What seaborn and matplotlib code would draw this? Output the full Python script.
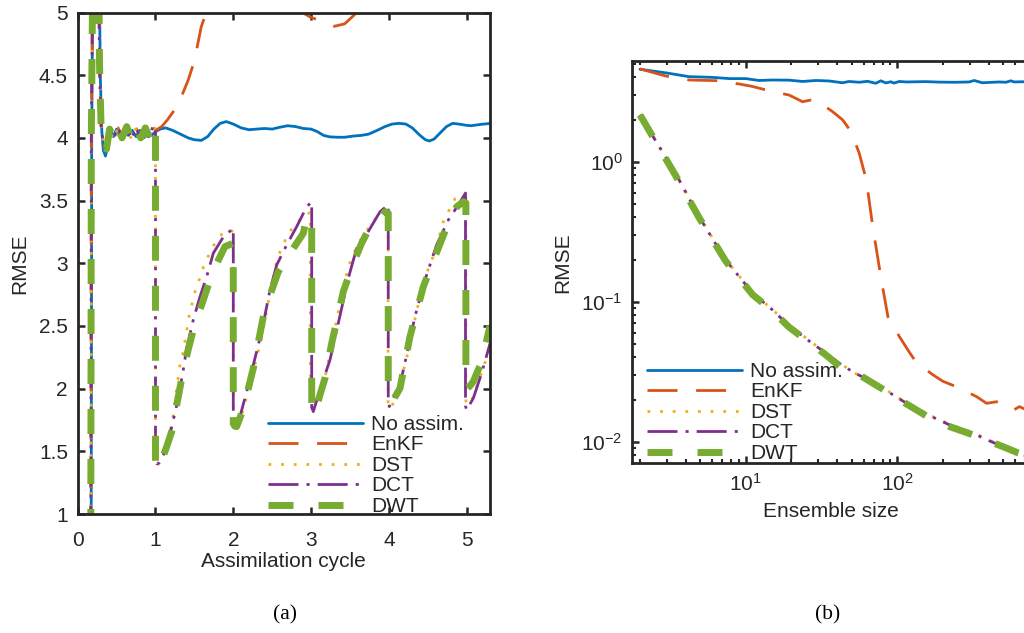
import matplotlib
matplotlib.use("Agg")
import matplotlib.pyplot as plt
import seaborn as sns
from matplotlib.ticker import FixedLocator, FormatStrFormatter

# ---------------- data: RMSE vs assimilation cycle ----------------
noassim_cycle = [0.17, 0.175, 0.18, 0.2, 0.24, 0.28, 0.29, 0.31, 0.33, 0.357, 0.39, 0.42, 0.46,
                 0.5, 0.55, 0.6, 0.65, 0.7, 0.75, 0.8, 0.85, 0.9, 0.95, 1.0,
                 1.06, 1.13, 1.22, 1.32, 1.42, 1.5, 1.59, 1.67, 1.75, 1.83, 1.91, 2.0, 2.1,
                 2.2, 2.3, 2.4, 2.5, 2.6, 2.7, 2.8, 2.9, 3.0, 3.08, 3.16, 3.24, 3.35, 3.43,
                 3.55, 3.65, 3.74, 3.85, 3.95, 4.04, 4.13, 4.22, 4.3, 4.4, 4.47, 4.52, 4.58,
                 4.66, 4.74, 4.82, 4.9, 5.0, 5.06, 5.15, 5.22, 5.3]
noassim_rmse = [0.0, 1.5, 4.0, 5.8, 6.2, 5.2, 4.5, 4.05, 3.9, 3.855, 3.95, 4.06, 4.01,
                4.07, 4.01, 4.06, 4.02, 4.06, 4.01, 4.06, 4.0, 4.06, 4.02, 4.05,
                4.07, 4.08, 4.06, 4.03, 4.0, 3.985, 3.98, 4.01, 4.07, 4.115, 4.13, 4.11, 4.08,
                4.065, 4.07, 4.075, 4.07, 4.085, 4.097, 4.09, 4.075, 4.07, 4.05, 4.02, 4.008, 4.005, 4.005,
                4.015, 4.02, 4.03, 4.06, 4.09, 4.11, 4.116, 4.11, 4.08, 4.02, 3.985, 3.975, 3.99,
                4.04, 4.09, 4.116, 4.11, 4.1, 4.097, 4.105, 4.11, 4.115]

# spin-up shared by the assimilating schemes (before the first analysis)
spinup_cycle = [0.165, 0.17, 0.175, 0.2, 0.24, 0.27, 0.28, 0.30, 0.33, 0.37, 0.41, 0.46, 0.52,
                0.57, 0.63, 0.69, 0.75, 0.81, 0.87, 0.92, 0.97, 1.0]
spinup_rmse = [0.0, 1.5, 4.0, 5.8, 6.2, 5.5, 4.6, 4.1, 3.95, 3.91, 4.07, 3.99, 4.08,
               4.0, 4.09, 3.99, 4.08, 4.0, 4.08, 4.0, 4.1, 4.06]

enkf_cycle = [1.0, 1.08, 1.152, 1.261, 1.326, 1.42, 1.5, 1.587, 1.652, 1.75, 1.9, 2.1, 2.4, 2.7,
              2.89, 3.0, 3.1, 3.194, 3.3, 3.433, 3.52, 3.586, 3.75, 4.0, 4.3, 4.6, 4.85, 5.0, 5.15, 5.3]
enkf_rmse = [4.06, 4.09, 4.143, 4.237, 4.318, 4.46, 4.614, 4.884, 5.0, 5.2, 5.4, 5.5, 5.45, 5.25,
             5.0, 4.96, 4.94, 4.91, 4.89, 4.91, 4.96, 5.0, 5.15, 5.3, 5.35, 5.25, 5.1, 5.03, 5.1, 5.2]

dst_cycle = [1.0, 1.02, 1.06, 1.122, 1.18, 1.229, 1.272, 1.315, 1.357, 1.435, 1.508, 1.563, 1.615,
             1.679, 1.752, 1.85, 1.95, 2.0,
             2.0, 2.02, 2.06, 2.12, 2.2, 2.28, 2.352, 2.472, 2.566, 2.707, 2.815, 2.935, 2.99,
             2.99, 3.02, 3.07, 3.15, 3.243, 3.372, 3.478, 3.607, 3.779, 3.886, 3.972, 3.99,
             3.99, 4.02, 4.07, 4.15, 4.25, 4.35, 4.46, 4.593, 4.7, 4.85, 4.93, 4.99,
             4.99, 5.03, 5.08, 5.15, 5.22, 5.3]
dst_rmse = [1.45, 1.38, 1.42, 1.511, 1.64, 1.79, 2.003, 2.189, 2.295, 2.588, 2.773, 2.87, 2.967,
            3.058, 3.146, 3.231, 3.27, 3.25,
            1.72, 1.69, 1.72, 1.82, 2.0, 2.2, 2.374, 2.76, 3.04, 3.24, 3.319, 3.399, 3.40,
            1.85, 1.82, 1.88, 2.0, 2.28, 2.68, 2.973, 3.16, 3.319, 3.399, 3.45, 3.46,
            1.87, 1.84, 1.9, 2.05, 2.3, 2.6, 2.88, 3.093, 3.332, 3.515, 3.53, 3.52,
            1.9, 1.87, 1.93, 2.05, 2.18, 2.32]

dct_cycle = [1.0, 1.02, 1.05, 1.1, 1.164, 1.229, 1.293, 1.357, 1.40, 1.486, 1.572, 1.658, 1.743,
             1.872, 2.0,
             2.0, 2.022, 2.05, 2.086, 2.172, 2.257, 2.322, 2.386, 2.472, 2.558, 2.686, 2.815, 2.943, 3.008,
             3.008, 3.028, 3.07, 3.136, 3.243, 3.36, 3.478, 3.586, 3.735, 3.886, 3.992,
             3.992, 4.005, 4.05, 4.143, 4.229, 4.335, 4.464, 4.614, 4.764, 4.892, 4.985,
             4.985, 5.0, 5.085, 5.171, 5.235, 5.3]
dct_rmse = [1.45, 1.40, 1.41, 1.47, 1.577, 1.75, 1.923, 2.15, 2.32, 2.55, 2.733, 2.893, 3.08,
            3.21, 3.279,
            1.72, 1.684, 1.70, 1.777, 1.976, 2.189, 2.349, 2.52, 2.787, 2.986, 3.146, 3.292, 3.45, 3.49,
            1.85, 1.817, 1.90, 2.03, 2.229, 2.55, 2.879, 3.12, 3.253, 3.411, 3.465,
            1.88, 1.857, 1.91, 2.03, 2.269, 2.574, 2.867, 3.146, 3.345, 3.465, 3.56,
            1.86, 1.83, 1.923, 2.083, 2.215, 2.36]

dwt_cycle = [1.0, 1.02, 1.036, 1.08, 1.14, 1.208, 1.27, 1.337, 1.42, 1.508, 1.6, 1.679, 1.78,
             1.893, 2.0,
             2.0, 2.02, 2.043, 2.13, 2.257, 2.386, 2.48, 2.579, 2.74, 2.9, 2.943, 3.008,
             3.008, 3.03, 3.06, 3.114, 3.179, 3.265, 3.414, 3.53, 3.65, 3.715, 3.85, 3.95, 3.992,
             3.992, 4.02, 4.057, 4.143, 4.271, 4.443, 4.635, 4.75, 4.871, 4.957, 4.99,
             4.99, 5.0, 5.04, 5.085, 5.193, 5.3]
dwt_rmse = [1.40, 1.36, 1.365, 1.43, 1.53, 1.657, 1.86, 2.08, 2.31, 2.52, 2.68, 2.827, 2.99,
            3.133, 3.16,
            1.72, 1.70, 1.697, 1.84, 2.162, 2.574, 2.76, 2.933, 3.09, 3.239, 3.36, 3.372,
            1.82, 1.80, 1.83, 1.95, 2.083, 2.362, 2.773, 2.98, 3.16, 3.239, 3.33, 3.411, 3.399,
            1.93, 1.91, 1.91, 2.003, 2.415, 2.813, 3.12, 3.3, 3.45, 3.49, 3.48,
            2.02, 2.0, 2.02, 2.056, 2.215, 2.50]

# ---------------- data: RMSE vs ensemble size ----------------
noassim_size = [2, 3, 4.2, 6, 7.8, 10, 12.2, 15, 19.3, 23.7, 29, 35.5, 43.5, 48, 56, 63.5, 72,
                77.8, 84, 90.6, 95, 103, 114, 154, 189, 243, 298, 321, 365, 470, 520, 561, 590,
                653, 760]
noassim_err = [4.57, 4.3, 4.05, 4.0, 3.92, 3.92, 3.80, 3.83, 3.82, 3.74, 3.80, 3.77, 3.66, 3.74,
               3.69, 3.75, 3.63, 3.78, 3.65, 3.72, 3.64, 3.74, 3.71, 3.73, 3.70, 3.69, 3.71, 3.80,
               3.66, 3.71, 3.69, 3.78, 3.71, 3.72, 3.72]

enkf_size = [2, 2.96, 4.23, 6.34, 9.0, 11, 13.6, 16.5, 19.3, 23.7, 28.3, 33, 37.5, 43.5, 49.5,
             56, 62.4, 68.9, 78.4, 86.7, 88.8, 103.5, 121, 133, 172, 200, 245, 333, 388, 452,
             583, 640, 760]
enkf_err = [4.6, 4.09, 3.83, 3.79, 3.59, 3.45, 3.25, 3.1, 2.99, 2.68, 2.79, 2.5, 2.27, 1.99, 1.64,
            1.15, 0.74, 0.34, 0.143, 0.078, 0.074, 0.056, 0.043, 0.037, 0.030, 0.027, 0.0247,
            0.021, 0.0188, 0.0193, 0.0168, 0.0178, 0.0163]

transform_size = [2, 2.6, 3.43, 4.9, 7.36, 11.1, 15, 19.2, 22.5, 27, 33.9, 41.5, 52, 68.9, 90,
                  115, 160, 222, 316, 400, 500, 630, 760]
dst_err = [2.16, 1.36, 0.83, 0.41, 0.2, 0.116, 0.088, 0.068, 0.06, 0.0515, 0.043, 0.0365, 0.031,
           0.027, 0.0224, 0.0189, 0.0156, 0.0133, 0.0116, 0.0103, 0.0093, 0.0084, 0.0077]
dct_err = [2.16, 1.35, 0.826, 0.405, 0.198, 0.115, 0.0873, 0.0675, 0.0594, 0.051, 0.0428, 0.0363,
           0.031, 0.0268, 0.0222, 0.0188, 0.0155, 0.01316, 0.01148, 0.0102, 0.0092, 0.0083, 0.0077]
dwt_err = [2.16, 1.33, 0.80, 0.40, 0.195, 0.112, 0.086, 0.066, 0.058, 0.050, 0.0415, 0.0345,
           0.0315, 0.0262, 0.0220, 0.0186, 0.0150, 0.0128, 0.0112, 0.0101, 0.0092, 0.0083, 0.0078]

labels = ["No assim.", "EnKF", "DST", "DCT", "DWT"]
colors = ["#0072BD", "#D95319", "#EDB120", "#7E2F8E", "#77AC30"]

# ---------------- style ----------------
sns.set_style("ticks")
ink = "#262626"
plt.rcParams.update({
    "font.family": ["Liberation Sans", "DejaVu Sans"],
    "mathtext.fontset": "custom",
    "mathtext.rm": "Liberation Sans",
    "mathtext.it": "Liberation Sans:italic",
    "mathtext.default": "regular",
    "axes.unicode_minus": False,
    "font.size": 15,
    "text.color": ink,
    "axes.labelcolor": ink,
    "axes.edgecolor": ink,
    "xtick.color": ink,
    "ytick.color": ink,
    "axes.linewidth": 2.0,
})

line_styles = [
    dict(linestyle="-", lw=2.0),
    dict(linestyle=(0, (10.8, 6.7)), lw=2.0),
    dict(linestyle=(0, (1.0, 3.55)), lw=2.0),
    dict(linestyle=(0, (10.8, 2.9, 1.1, 2.9)), lw=2.0),
    dict(linestyle=(0, (3.6, 3.6)), lw=5.0),
]

legend_kw = dict(bbox_transform=None, frameon=False, fontsize=15, handlelength=4.56,
                 handletextpad=0.4, labelspacing=0.07, borderpad=0, borderaxespad=0,
                 loc="upper left")

fig = plt.figure(figsize=(10.24, 6.33), dpi=100)
ax_a = fig.add_axes([0.07588, 0.18799, 0.40264, 0.79226])
ax_b = fig.add_axes([0.61748, 0.26809, 0.38828, 0.63507])
legend_kw["bbox_transform"] = fig.transFigure

# ---------------- panel (a) ----------------
series_a = [
    (noassim_cycle, noassim_rmse),
    (spinup_cycle + enkf_cycle, spinup_rmse + enkf_rmse),
    (spinup_cycle + dst_cycle, spinup_rmse + dst_rmse),
    (spinup_cycle + dct_cycle, spinup_rmse + dct_rmse),
    (spinup_cycle + dwt_cycle, spinup_rmse + dwt_rmse),
]
for (xs, ys), lab, col, st in zip(series_a, labels, colors, line_styles):
    sns.lineplot(x=xs, y=ys, ax=ax_a, color=col, label=lab, sort=False,
                 estimator=None, errorbar=None, **st)

ax_a.set_xlim(0, 5.3)
ax_a.set_ylim(1, 5)
ax_a.xaxis.set_major_locator(FixedLocator([0, 1, 2, 3, 4, 5]))
ax_a.yaxis.set_major_locator(FixedLocator([1, 1.5, 2, 2.5, 3, 3.5, 4, 4.5, 5]))
ax_a.yaxis.set_major_formatter(FormatStrFormatter("%g"))
ax_a.tick_params(direction="in", top=True, right=True, length=5, width=1.8, labelsize=15)
ax_a.tick_params(axis="y", pad=7)
ax_a.tick_params(axis="x", pad=12.5)
ax_a.set_xlabel("Assimilation cycle", fontsize=15)
ax_a.set_ylabel("RMSE", fontsize=15)
ax_a.xaxis.set_label_coords(0.5, -0.076)
ax_a.yaxis.set_label_coords(-0.118, 0.5)
for sp in ax_a.spines.values():
    sp.set_visible(True)
    sp.set_linewidth(2.0)

ax_a.legend(bbox_to_anchor=(268 / 1024, 1 - 415 / 633), **legend_kw)

# ---------------- panel (b) ----------------
series_b = [
    (noassim_size, noassim_err),
    (enkf_size, enkf_err),
    (transform_size, dst_err),
    (transform_size, dct_err),
    (transform_size, dwt_err),
]
for (xs, ys), lab, col, st in zip(series_b, labels, colors, line_styles):
    sns.lineplot(x=xs, y=ys, ax=ax_b, color=col, label=lab, sort=False,
                 estimator=None, errorbar=None, **st)

ax_b.set_xscale("log")
ax_b.set_yscale("log")
ax_b.set_xlim(1.78, 750)
ax_b.set_ylim(0.00701, 5.21)
ax_b.tick_params(which="major", direction="in", top=True, right=False, length=5,
                 width=1.8, labelsize=15, pad=7)
ax_b.tick_params(which="minor", direction="in", top=True, right=False, length=3, width=1.5)
ax_b.set_xlabel("Ensemble size", fontsize=15)
ax_b.set_ylabel("RMSE", fontsize=15)
ax_b.xaxis.set_label_coords(0.5, -0.097)
ax_b.yaxis.set_label_coords(-0.15, 0.5)
for sp in ax_b.spines.values():
    sp.set_visible(True)
    sp.set_linewidth(2.0)

ax_b.legend(bbox_to_anchor=(646.7 / 1024, 1 - 362 / 633), **legend_kw)

# panel captions
fig.text(285 / 1024, 1 - 615 / 633, "(a)", ha="center", va="center",
         family=["Liberation Serif", "DejaVu Serif"], fontsize=15.5, color="black")
fig.text(827.5 / 1024, 1 - 615 / 633, "(b)", ha="center", va="center",
         family=["Liberation Serif", "DejaVu Serif"], fontsize=15.5, color="black")

fig.savefig("out.png", dpi=100)
